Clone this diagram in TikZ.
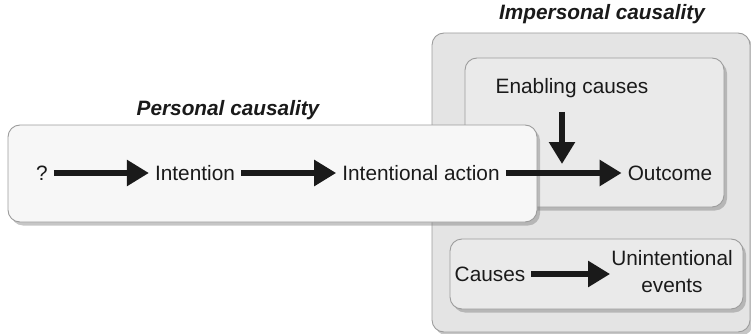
\documentclass[tikz,border=0pt]{standalone}
\usepackage{fontspec}
\setmainfont{Liberation Sans}
\usetikzlibrary{positioning,arrows.meta,shadows}
\definecolor{ink}{HTML}{1A1A1A}
\definecolor{rim}{HTML}{9C9C9C}
\definecolor{outerfill}{HTML}{E4E4E4}
\definecolor{innerfill}{HTML}{EAEAEA}
\definecolor{paper}{HTML}{F7F7F7}

\begin{document}
\begin{tikzpicture}[x=1pt,y=-1pt,
  panel/.style={draw=rim,line width=0.9pt,rounded corners=12pt,inner sep=0pt,
    drop shadow={shadow xshift=3pt,shadow yshift=-3.5pt,opacity=0.45}},
  word/.style={font=\fontsize{20.8}{27}\selectfont,text=ink,inner sep=6pt,align=center},
  heading/.style={font=\fontsize{20.8}{25}\selectfont\bfseries\itshape,text=ink},
  flow/.style={draw=ink,line width=5.5pt,-{Triangle[length=22pt,width=25pt]}}]
\useasboundingbox (0,0) rectangle (751,334);

% boxes
\node[panel,fill=outerfill,minimum width=318pt,minimum height=299pt] (impersonal) at (591,182.5) {};
\node[panel,fill=innerfill,minimum width=259pt,minimum height=149pt] (enabling) at (594.5,132.5) {};
\node[panel,fill=innerfill,minimum width=293pt,minimum height=70pt] (accidental) at (596.5,274) {};
\node[panel,fill=paper,minimum width=529pt,minimum height=97pt] (personal) at (272.5,173.5) {};

% headings
\node[heading] (impersonalhead) at (602,14) {Impersonal causality};
\node[heading] (personalhead) at (228,110) {Personal causality};

% chain of personal causality
\node[word] (unknown) at (42,173) {?};
\node[word] (intention) at (195,173) {Intention};
\node[word] (action) at (421,173) {Intentional action};
\node[word] (outcome) at (670,173) {Outcome};
\node[word] (enabler) at (572,88) {Enabling causes};
\coordinate (meet) at (562,164);

% unintentional events
\node[word] (causes) at (490,274) {Causes};
\node[word,inner sep=1pt] (events) at (672,272) {Unintentional\\events};

\draw[flow] (unknown) -- (intention);
\draw[flow] (intention) -- (action);
\draw[flow] (action) -- (outcome);
\draw[flow] ([yshift=-8pt]enabler.south -| meet) -- (meet);
\draw[flow] (causes.east) -- (events.west |- causes.east);
\end{tikzpicture}
\end{document}
